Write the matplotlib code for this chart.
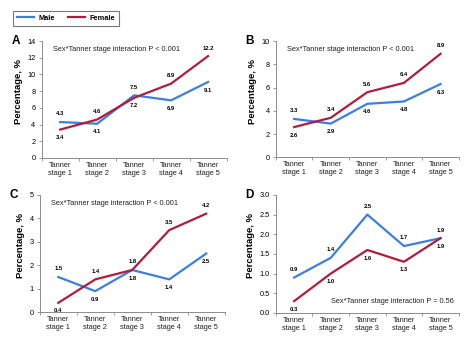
import matplotlib.pyplot as plt
from matplotlib.lines import Line2D

plt.rcParams['font.family'] = ['Liberation Sans', 'DejaVu Sans']

stages = ['Tanner\nstage 1', 'Tanner\nstage 2', 'Tanner\nstage 3', 'Tanner\nstage 4', 'Tanner\nstage 5']

male_a = [4.3, 4.1, 7.5, 6.9, 9.1]
female_a = [3.4, 4.6, 7.2, 8.9, 12.2]
male_b = [3.3, 2.9, 4.6, 4.8, 6.3]
female_b = [2.6, 3.4, 5.6, 6.4, 8.9]
male_c = [1.5, 0.9, 1.8, 1.4, 2.5]
female_c = [0.4, 1.4, 1.8, 3.5, 4.2]
male_d = [0.9, 1.4, 2.5, 1.7, 1.9]
female_d = [0.3, 1.0, 1.6, 1.3, 1.9]

blue = '#3b7fe3'
red = '#b01c3c'
grey = '#8c8c8c'

panels = [
    # letter, male, female, ymax, ystep, yfmt, note, note at bottom, tie winner
    ('A', male_a, female_a, 14, 2, '{:.0f}', 'Sex*Tanner stage interaction P < 0.001', False, 'f'),
    ('B', male_b, female_b, 10, 2, '{:.0f}', 'Sex*Tanner stage interaction P < 0.001', False, 'f'),
    ('C', male_c, female_c, 5, 1, '{:.0f}', 'Sex*Tanner stage interaction P < 0.001', False, 'f'),
    ('D', male_d, female_d, 3, 0.5, '{:.1f}', 'Sex*Tanner stage interaction P = 0.56', True, 'm'),
]
rects = [
    [0.088, 0.534, 0.39, 0.345],
    [0.582, 0.536, 0.386, 0.343],
    [0.084, 0.079, 0.39, 0.346],
    [0.582, 0.077, 0.386, 0.348],
]

fig = plt.figure(figsize=(4.74, 3.39), dpi=100)

for (letter, male, female, ymax, ystep, yfmt, note, bottom, tie), rect in zip(panels, rects):
    ax = fig.add_axes(rect)
    x = list(range(1, 6))
    ax.plot(x, male, color=blue, lw=1.6)
    ax.plot(x, female, color=red, lw=1.6)
    for i in range(5):
        m, f = male[i], female[i]
        m_up = m > f or (m == f and tie == 'm')
        ax.annotate(f'{m:.1f}', (x[i], m), xytext=(0, 4 if m_up else -4), textcoords='offset points',
                    ha='center', va='bottom' if m_up else 'top', fontsize=4.2, fontweight='bold')
        ax.annotate(f'{f:.1f}', (x[i], f), xytext=(0, -4 if m_up else 4), textcoords='offset points',
                    ha='center', va='top' if m_up else 'bottom', fontsize=4.2, fontweight='bold')
    ax.set_xlim(0.5, 5.5)
    ax.set_ylim(0, ymax)
    yt = [ystep * k for k in range(int(round(ymax / ystep)) + 1)]
    ax.set_yticks(yt)
    ax.set_yticklabels([yfmt.format(v) for v in yt])
    ax.set_xticks(x)
    ax.set_xticklabels(stages)
    ax.set_xticks([0.5 + k for k in range(6)], minor=True)
    ax.tick_params(axis='x', which='major', length=0, pad=3, labelsize=5.3, colors='#222222')
    ax.tick_params(axis='x', which='minor', length=2.5, color=grey, width=0.6)
    ax.tick_params(axis='y', length=2.5, color=grey, width=0.6, labelsize=5.3, pad=2)
    for s in ['top', 'right']:
        ax.spines[s].set_visible(False)
    for s in ['left', 'bottom']:
        ax.spines[s].set_color(grey)
        ax.spines[s].set_linewidth(0.7)
    ax.set_ylabel('Percentage, %', fontsize=6.8, fontweight='bold', labelpad=3)
    ax.yaxis.label.set_y(0.57)
    if bottom:
        ax.text(0.97, 0.1, note, transform=ax.transAxes, ha='right', va='center', fontsize=5.3, color='#222222')
    else:
        ax.text(0.06, 0.93, note, transform=ax.transAxes, ha='left', va='center', fontsize=5.3, color='#222222')
    ax.text(-0.165, 1.0, letter, transform=ax.transAxes, ha='left', va='center', fontsize=8.5, fontweight='bold')

handles = [Line2D([], [], color=blue, lw=1.6), Line2D([], [], color=red, lw=1.6)]
leg = fig.legend(handles, ['Male', 'Female'], loc='upper left', bbox_to_anchor=(0.027, 0.968),
                 borderaxespad=0, ncol=2, prop={'weight': 'bold', 'size': 5.3}, frameon=True, fancybox=False,
                 handlelength=2.3, columnspacing=1.8, borderpad=0.55, handletextpad=0.6)
leg.get_frame().set_edgecolor('#555555')
leg.get_frame().set_linewidth(0.8)

fig.savefig('out.png', dpi=100)
